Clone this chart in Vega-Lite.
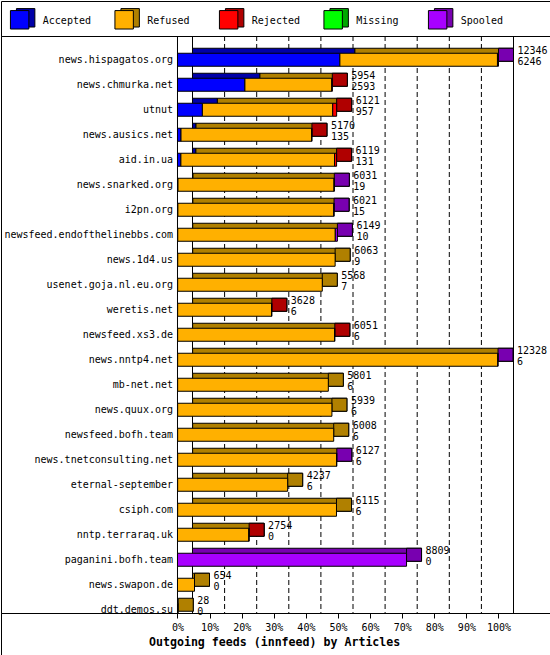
{
  "$schema": "https://vega.github.io/schema/vega-lite/v6.json",
  "padding": 0,
  "background": "white",
  "spacing": 0,
  "bounds": "flush",
  "config": {
    "view": {"stroke": "black", "strokeWidth": 1},
    "text": {"font": "DejaVu Sans Mono", "fontSize": 10, "color": "black"}
  },
  "datasets": {
    "feeds": [
      {"host": "news.hispagatos.org", "offered": 12346, "accepted": 6246, "refused": 6060, "rejected": 0, "missing": 0, "spooled": 40},
      {"host": "news.chmurka.net", "offered": 5954, "accepted": 2593, "refused": 3341, "rejected": 20, "missing": 0, "spooled": 0},
      {"host": "utnut", "offered": 6121, "accepted": 957, "refused": 5014, "rejected": 150, "missing": 0, "spooled": 0},
      {"host": "news.ausics.net", "offered": 5170, "accepted": 135, "refused": 5025, "rejected": 10, "missing": 0, "spooled": 0},
      {"host": "aid.in.ua", "offered": 6119, "accepted": 131, "refused": 5908, "rejected": 80, "missing": 0, "spooled": 0},
      {"host": "news.snarked.org", "offered": 6031, "accepted": 19, "refused": 6002, "rejected": 0, "missing": 0, "spooled": 10},
      {"host": "i2pn.org", "offered": 6021, "accepted": 15, "refused": 5996, "rejected": 0, "missing": 0, "spooled": 10},
      {"host": "newsfeed.endofthelinebbs.com", "offered": 6149, "accepted": 10, "refused": 6059, "rejected": 0, "missing": 0, "spooled": 80},
      {"host": "news.1d4.us", "offered": 6063, "accepted": 9, "refused": 6054, "rejected": 0, "missing": 0, "spooled": 0},
      {"host": "usenet.goja.nl.eu.org", "offered": 5568, "accepted": 7, "refused": 5561, "rejected": 0, "missing": 0, "spooled": 0},
      {"host": "weretis.net", "offered": 3628, "accepted": 6, "refused": 3612, "rejected": 10, "missing": 0, "spooled": 0},
      {"host": "newsfeed.xs3.de", "offered": 6051, "accepted": 6, "refused": 6035, "rejected": 10, "missing": 0, "spooled": 0},
      {"host": "news.nntp4.net", "offered": 12328, "accepted": 6, "refused": 12312, "rejected": 0, "missing": 0, "spooled": 10},
      {"host": "mb-net.net", "offered": 5801, "accepted": 6, "refused": 5795, "rejected": 0, "missing": 0, "spooled": 0},
      {"host": "news.quux.org", "offered": 5939, "accepted": 6, "refused": 5933, "rejected": 0, "missing": 0, "spooled": 0},
      {"host": "newsfeed.bofh.team", "offered": 6008, "accepted": 6, "refused": 6002, "rejected": 0, "missing": 0, "spooled": 0},
      {"host": "news.tnetconsulting.net", "offered": 6127, "accepted": 6, "refused": 6111, "rejected": 0, "missing": 0, "spooled": 10},
      {"host": "eternal-september", "offered": 4237, "accepted": 6, "refused": 4231, "rejected": 0, "missing": 0, "spooled": 0},
      {"host": "csiph.com", "offered": 6115, "accepted": 6, "refused": 6109, "rejected": 0, "missing": 0, "spooled": 0},
      {"host": "nntp.terraraq.uk", "offered": 2754, "accepted": 0, "refused": 2744, "rejected": 10, "missing": 0, "spooled": 0},
      {"host": "paganini.bofh.team", "offered": 8809, "accepted": 0, "refused": 0, "rejected": 0, "missing": 0, "spooled": 8809},
      {"host": "news.swapon.de", "offered": 654, "accepted": 0, "refused": 654, "rejected": 0, "missing": 0, "spooled": 0},
      {"host": "ddt.demos.su", "offered": 28, "accepted": 0, "refused": 28, "rejected": 0, "missing": 0, "spooled": 0}
    ],
    "series": [
      {"key": "accepted", "name": "Accepted", "ord": 0},
      {"key": "refused", "name": "Refused", "ord": 1},
      {"key": "rejected", "name": "Rejected", "ord": 2},
      {"key": "missing", "name": "Missing", "ord": 3},
      {"key": "spooled", "name": "Spooled", "ord": 4}
    ],
    "gridticks": [
      {"pct": 0}, {"pct": 10}, {"pct": 20}, {"pct": 30}, {"pct": 40}, {"pct": 50},
      {"pct": 60}, {"pct": 70}, {"pct": 80}, {"pct": 90}, {"pct": 100}
    ]
  },
  "vconcat": [
    {
      "width": 549,
      "height": 35,
      "data": {"name": "series"},
      "encoding": {
        "x": {"field": "name", "type": "nominal", "sort": null,
              "scale": {"type": "band", "paddingInner": 0, "paddingOuter": 0.1268, "align": 0},
              "axis": null}
      },
      "layer": [
        {
          "mark": {"type": "square", "size": 340, "opacity": 1, "stroke": "black", "strokeWidth": 1, "xOffset": -27.6, "yOffset": -0.7},
          "encoding": {
            "fill": {"field": "name", "type": "nominal", "legend": null,
                     "scale": {"domain": ["Accepted", "Refused", "Rejected", "Missing", "Spooled"],
                               "range": ["#0000A8", "#B08000", "#B00000", "#00A800", "#7800B0"]}}
          }
        },
        {
          "mark": {"type": "square", "size": 340, "opacity": 1, "stroke": "black", "strokeWidth": 1, "xOffset": -33.6, "yOffset": 1.3},
          "encoding": {
            "fill": {"field": "name", "type": "nominal", "legend": null,
                     "scale": {"domain": ["Accepted", "Refused", "Rejected", "Missing", "Spooled"],
                               "range": ["#0000FF", "#FFB000", "#FF0000", "#00FF00", "#A800FF"]}}
          }
        },
        {
          "mark": {"type": "text", "align": "left", "baseline": "middle", "dx": -10.45, "dy": 2},
          "encoding": {"text": {"field": "name"}}
        }
      ],
      "resolve": {"scale": {"fill": "independent"}}
    },
    {
      "width": 549,
      "height": 577,
      "layer": [
        {
          "data": {"name": "gridticks"},
          "mark": {"type": "rule", "color": "black", "strokeWidth": 1},
          "encoding": {
            "x": {"field": "pct", "type": "quantitative",
                  "scale": {"domain": [-59.657, 111.37], "nice": false, "zero": false}, "axis": null},
            "strokeDash": {"condition": {"test": "datum.pct == 0 || datum.pct == 100", "value": [1, 0]}, "value": [5, 3]}
          }
        },
        {
          "layer": [
            {
              "data": {"values": [{}]},
              "mark": {"type": "rule", "color": "black", "strokeWidth": 1},
              "encoding": {
                "x": {"datum": 0, "type": "quantitative",
                      "scale": {"domain": [-6788.4, 14326.8], "nice": false, "zero": false}, "axis": null}
              }
            },
            {
              "data": {"name": "feeds"},
              "transform": [
                {"fold": ["accepted", "refused", "rejected", "missing", "spooled"], "as": ["key", "value"]},
                {"filter": "datum.value > 0"},
                {"lookup": "key", "from": {"data": {"name": "series"}, "key": "key", "fields": ["name", "ord"]}},
                {"stack": "value", "groupby": ["host"], "sort": [{"field": "ord", "order": "ascending"}], "as": ["v0", "v1"]}
              ],
              "layer": [
                {
                  "mark": {"type": "bar", "height": 13, "xOffset": 15, "x2Offset": 15, "yOffset": -5, "stroke": "black", "strokeWidth": 1, "clip": true},
                  "encoding": {
                    "x": {"field": "v0", "type": "quantitative",
                          "scale": {"domain": [-6788.4, 14326.8], "nice": false, "zero": false}, "axis": null},
                    "x2": {"field": "v1"},
                    "y": {"field": "host", "type": "nominal", "sort": null,
                          "scale": {"range": [11.25, 586.25], "paddingInner": 0, "paddingOuter": 0},
                          "axis": {"offset": -176.5, "domain": false, "ticks": false, "tickSize": 0, "labelPadding": 5, "labelFont": "DejaVu Sans Mono", "labelFontSize": 10, "labelColor": "black", "labelLimit": 300, "title": null}},
                    "fill": {"field": "name", "type": "nominal", "legend": null,
                             "scale": {"domain": ["Accepted", "Refused", "Rejected", "Missing", "Spooled"],
                                       "range": ["#0000A8", "#B08000", "#B00000", "#00A800", "#7800B0"]}}
                  }
                },
                {
                  "transform": [{"filter": "datum.v1 == datum.offered"}],
                  "mark": {"type": "bar", "height": 13, "x2Offset": 15, "yOffset": -5, "stroke": "black", "strokeWidth": 1, "clip": true},
                  "encoding": {
                    "x": {"field": "v1", "type": "quantitative",
                          "scale": {"domain": [-6788.4, 14326.8], "nice": false, "zero": false}, "axis": null},
                    "x2": {"field": "v1"},
                    "y": {"field": "host", "type": "nominal", "sort": null,
                          "scale": {"range": [11.25, 586.25], "paddingInner": 0, "paddingOuter": 0},
                          "axis": {"offset": -176.5, "domain": false, "ticks": false, "tickSize": 0, "labelPadding": 5, "labelFont": "DejaVu Sans Mono", "labelFontSize": 10, "labelColor": "black", "labelLimit": 300, "title": null}},
                    "fill": {"field": "name", "type": "nominal", "legend": null,
                             "scale": {"domain": ["Accepted", "Refused", "Rejected", "Missing", "Spooled"],
                                       "range": ["#0000A8", "#B08000", "#B00000", "#00A800", "#7800B0"]}}
                  }
                },
                {
                  "mark": {"type": "bar", "height": 13, "stroke": "black", "strokeWidth": 1, "clip": true},
                  "encoding": {
                    "x": {"field": "v0", "type": "quantitative",
                          "scale": {"domain": [-6788.4, 14326.8], "nice": false, "zero": false}, "axis": null},
                    "x2": {"field": "v1"},
                    "y": {"field": "host", "type": "nominal", "sort": null,
                          "scale": {"range": [11.25, 586.25], "paddingInner": 0, "paddingOuter": 0},
                          "axis": {"offset": -176.5, "domain": false, "ticks": false, "tickSize": 0, "labelPadding": 5, "labelFont": "DejaVu Sans Mono", "labelFontSize": 10, "labelColor": "black", "labelLimit": 300, "title": null}},
                    "fill": {"field": "name", "type": "nominal", "legend": null,
                             "scale": {"domain": ["Accepted", "Refused", "Rejected", "Missing", "Spooled"],
                                       "range": ["#0000FF", "#FFB000", "#FF0000", "#00FF00", "#A800FF"]}}
                  }
                }
              ],
              "resolve": {"scale": {"fill": "independent"}}
            },
            {
              "data": {"name": "feeds"},
              "mark": {"type": "text", "align": "left", "baseline": "middle", "dx": 19, "dy": -9},
              "encoding": {
                "x": {"field": "offered", "type": "quantitative",
                      "scale": {"domain": [-6788.4, 14326.8], "nice": false, "zero": false}, "axis": null},
                "y": {"field": "host", "type": "nominal", "sort": null,
                      "scale": {"range": [11.25, 586.25], "paddingInner": 0, "paddingOuter": 0},
                      "axis": {"offset": -176.5, "domain": false, "ticks": false, "tickSize": 0, "labelPadding": 5, "labelFont": "DejaVu Sans Mono", "labelFontSize": 10, "labelColor": "black", "labelLimit": 300, "title": null}},
                "text": {"field": "offered", "type": "quantitative", "format": "d"}
              }
            },
            {
              "data": {"name": "feeds"},
              "mark": {"type": "text", "align": "left", "baseline": "middle", "dx": 19, "dy": 2.5},
              "encoding": {
                "x": {"field": "offered", "type": "quantitative",
                      "scale": {"domain": [-6788.4, 14326.8], "nice": false, "zero": false}, "axis": null},
                "y": {"field": "host", "type": "nominal", "sort": null,
                      "scale": {"range": [11.25, 586.25], "paddingInner": 0, "paddingOuter": 0},
                      "axis": {"offset": -176.5, "domain": false, "ticks": false, "tickSize": 0, "labelPadding": 5, "labelFont": "DejaVu Sans Mono", "labelFontSize": 10, "labelColor": "black", "labelLimit": 300, "title": null}},
                "text": {"field": "accepted", "type": "quantitative", "format": "d"}
              }
            }
          ]
        }
      ],
      "resolve": {"scale": {"x": "independent"}}
    },
    {
      "width": 549,
      "height": 42,
      "data": {"name": "gridticks"},
      "mark": {"type": "tick", "opacity": 0},
      "encoding": {
        "x": {"field": "pct", "type": "quantitative",
              "scale": {"domain": [-54.984, 116.044], "nice": false, "zero": false},
              "axis": {"orient": "bottom", "offset": -42,
                       "values": [0, 10, 20, 30, 40, 50, 60, 70, 80, 90, 100],
                       "labelExpr": "datum.value + '%'",
                       "domain": false, "grid": false, "ticks": true, "tickSize": 5, "tickColor": "black",
                       "labelFont": "DejaVu Sans Mono", "labelFontSize": 10, "labelColor": "black",
                       "labelBaseline": "middle", "labelPadding": 9.5, "labelFlush": false, "labelOverlap": false,
                       "title": "Outgoing feeds (innfeed) by Articles",
                       "titleFont": "DejaVu Sans Mono", "titleFontSize": 11.6, "titleFontWeight": "bold", "titleColor": "black",
                       "titleX": 147.5, "titleY": 29.5, "titleAlign": "left", "titleBaseline": "middle", "titleAngle": 0}}
      }
    }
  ]
}
